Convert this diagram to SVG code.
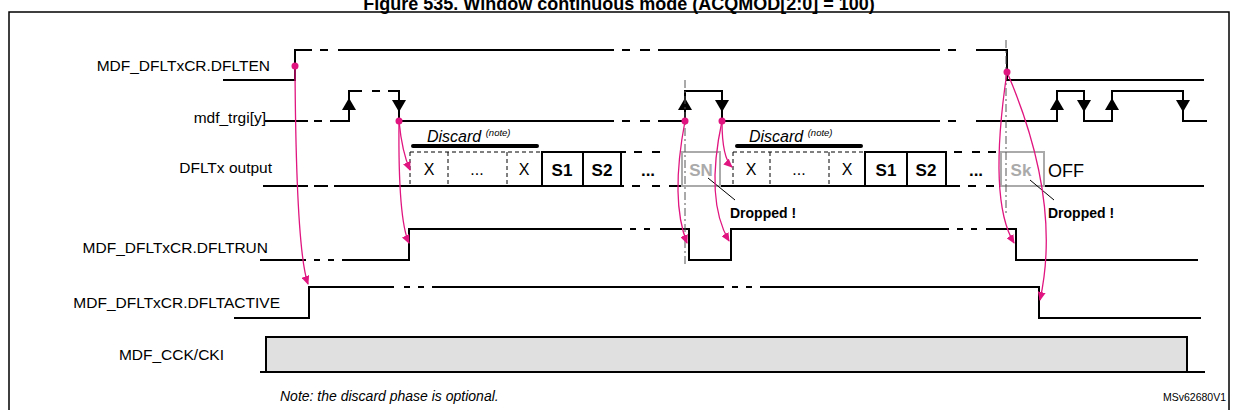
<svg xmlns="http://www.w3.org/2000/svg" width="1238" height="410" viewBox="0 0 1238 410">
<style>
.s{fill:none;stroke:#000;stroke-width:2}
.d{fill:none;stroke:#000;stroke-width:1;stroke-dasharray:4 3}
.g{fill:none;stroke:#aaa;stroke-width:2}
.m{fill:none;stroke:#e0157f;stroke-width:1.3;marker-end:url(#ah)}
.dot{fill:#e0157f}
.vd{stroke:#555;stroke-width:1;stroke-dasharray:8 3 2 3}
text{font-family:"Liberation Sans",Arial,sans-serif;fill:#000}
.lb{font-size:15.5px;text-anchor:end}
.bx{font-size:16px;text-anchor:middle}
.bb{font-size:17px;font-weight:bold;text-anchor:middle}
.gr{fill:#aaa}
.it{font-style:italic}
</style>
<defs>
<marker id="ah" markerWidth="9" markerHeight="8" refX="8" refY="4" orient="auto" markerUnits="userSpaceOnUse"><path d="M0,0 L9,4 L0,8 Z" fill="#e0157f"/></marker>
<polygon id="up" points="-7,11 7,11 0,-1" fill="#000"/>
<polygon id="dn" points="-7,-1 7,-1 0,11" fill="#000"/>
</defs>
<text x="619" y="10" style="font-size:18px;font-weight:bold;text-anchor:middle">Figure 535. Window continuous mode (ACQMOD[2:0] = 100)</text>
<rect x="9" y="12" width="1220" height="410" fill="none" stroke="#000" stroke-width="1.5"/>

<g id="labels">
<text class="lb" x="270" y="71">MDF_DFLTxCR.DFLTEN</text>
<text class="lb" x="266" y="123">mdf_trgi[y]</text>
<text class="lb" x="272" y="173">DFLTx output</text>
<text class="lb" x="268" y="253">MDF_DFLTxCR.DFLTRUN</text>
<text class="lb" x="280" y="308">MDF_DFLTxCR.DFLTACTIVE</text>
<text class="lb" x="224" y="360">MDF_CCK/CKI</text>
</g>

<g id="dflten">
<path class="s" d="M223,80 H295 V50 H312 M320,50 H328 M338,50 H614 M622,50 H630 M640,50 H650 M658,50 H940 M948,50 H956 M976,50 H1007 V80 H1204"/>
</g>

<g id="trgi">
<path class="s" d="M265,121 H308 M314,121 H322 M330,121 H349 V91 H362 M372,91 H380 M388,91 H399 V121 H614 M622,121 H630 M640,121 H650 M658,121 H685 V91 H722 V121 H940 M948,121 H956 M976,121 H1057 V91 H1084 V121 H1112 V91 H1183 V121 H1207"/>
<use href="#up" x="349" y="99"/>
<use href="#dn" x="399" y="101"/>
<use href="#up" x="685" y="99"/>
<use href="#dn" x="722" y="101"/>
<use href="#up" x="1057" y="99"/>
<use href="#dn" x="1084" y="101"/>
<use href="#up" x="1112" y="99"/>
<use href="#dn" x="1183" y="101"/>
</g>

<g id="output">
<path class="s" d="M263,186 H308 M314,186 H328 M334,186 H624 M632,186 H640 M652,186 H660 M669,186 H960 M968,186 H976 M986,186 H994 M999,186 H1204"/>
<path class="s" d="M621,152 H626 M634,152 H642 M652,152 H660 M954,152 H962 M972,152 H980 M988,152 H996"/>
<path class="d" d="M410,152 H542 M410,152 V186 M448,152 V186 M507,152 V186"/>
<rect class="s" x="542" y="152" width="41" height="34"/>
<rect class="s" x="583" y="152" width="38" height="34"/>
<text class="bx" x="429" y="175">X</text><text class="bx" x="477" y="175">...</text><text class="bx" x="524" y="175">X</text>
<text class="bb" x="562" y="176">S1</text><text class="bb" x="602" y="176">S2</text>
<text class="bb" x="648" y="176">...</text>
<rect class="g" x="682" y="152" width="38" height="34"/>
<text class="bb gr" x="701" y="176">SN</text>
<path class="d" d="M733,152 H865 M733,152 V186 M770,152 V186 M829,152 V186"/>
<rect class="s" x="865" y="152" width="42" height="34"/>
<rect class="s" x="907" y="152" width="39" height="34"/>
<text class="bx" x="751" y="175">X</text><text class="bx" x="799" y="175">...</text><text class="bx" x="847" y="175">X</text>
<text class="bb" x="886" y="176">S1</text><text class="bb" x="926" y="176">S2</text>
<text class="bb" x="976" y="176">...</text>
<rect class="g" x="1001" y="152" width="43" height="34"/>
<text class="bb gr" x="1021" y="176">Sk</text>
<text x="1048" y="177" style="font-size:18px">OFF</text>
<path d="M413,146 H537 M737,146 H861" stroke="#000" stroke-width="4" stroke-linecap="round"/>
<text x="427" y="142" class="it" style="font-size:16px">Discard <tspan dy="-6" style="font-size:9.5px">(note)</tspan></text>
<text x="749" y="142" class="it" style="font-size:16px">Discard <tspan dy="-6" style="font-size:9.5px">(note)</tspan></text>
<path d="M708,178 L735,200 M1030,180 L1054,200" stroke="#000" stroke-width="1"/>
<text x="730" y="218" style="font-size:14px;font-weight:bold">Dropped !</text>
<text x="1048" y="218" style="font-size:14px;font-weight:bold">Dropped !</text>
</g>

<g id="dfltrun">
<path class="s" d="M260,260 H306 M314,260 H320 M328,260 H334 M342,260 H409 V229 H622 M630,229 H636 M644,229 H650 M660,229 H689 V260 H731 V229 H949 M957,229 H963 M971,229 H977 M986,229 H1016 V260 H1198"/>
</g>

<g id="dfltactive">
<path class="s" d="M234,318 H309 V287 H394 M404,287 H410 M418,287 H424 M432,287 H724 M732,287 H738 M746,287 H752 M760,287 H1039 V318 H1201"/>
</g>

<g id="cck">
<rect x="266" y="337" width="921" height="35" fill="#e0e0e0" stroke="#000" stroke-width="2"/>
<line x1="260" y1="372" x2="1205" y2="372" stroke="#000" stroke-width="2"/>
</g>

<g id="connectors">
<line class="vd" x1="685" y1="80" x2="685" y2="265"/>
<line class="vd" x1="1006" y1="40" x2="1006" y2="215"/>
<path class="m" d="M295,66 Q296,250 308,284"/>
<path class="m" d="M399,121 Q402,152 410,170"/>
<path class="m" d="M399,121 Q398,220 409,243"/>
<path class="m" d="M685,121 Q670,200 687,243"/>
<path class="m" d="M722,121 Q705,200 729,241"/>
<path class="m" d="M722,121 Q722,158 732,167"/>
<path class="m" d="M1007,72 Q988,200 1014,243"/>
<path class="m" d="M1007,72 Q1062,200 1040,300"/>
<circle class="dot" cx="295" cy="66" r="3.5"/>
<circle class="dot" cx="399" cy="121" r="3.5"/>
<circle class="dot" cx="685" cy="121" r="3.5"/>
<circle class="dot" cx="722" cy="121" r="3.5"/>
<circle class="dot" cx="1007" cy="72" r="3.5"/>
</g>

<text x="280" y="401" class="it" style="font-size:14px">Note: the discard phase is optional.</text>
<text x="1226" y="401" style="font-size:10.5px;text-anchor:end">MSv62680V1</text>
</svg>
